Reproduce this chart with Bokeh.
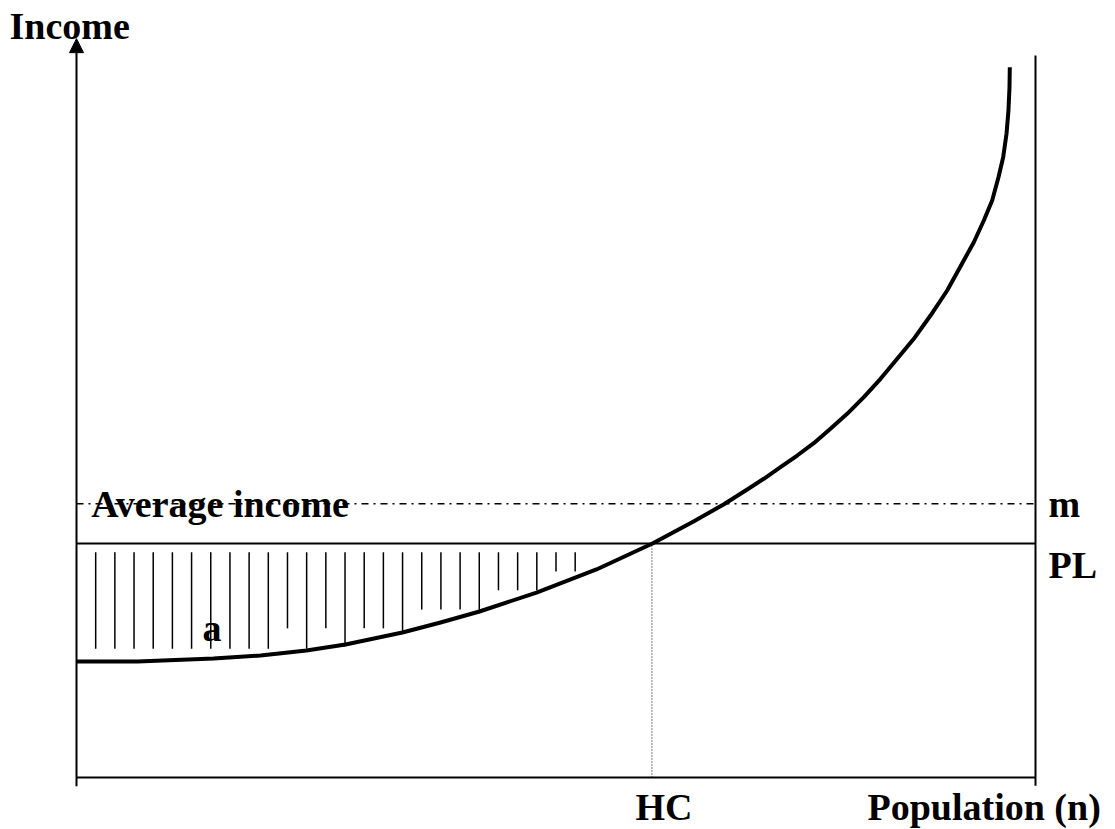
from bokeh.plotting import figure
from bokeh.models import Range1d, Arrow, NormalHead, ColumnDataSource
from bokeh.core.properties import value
from bokeh.embed import file_html
from bokeh.resources import INLINE

# ---------------- data (population share 0..100, income units) ----------------
population = [0, 6.36, 14.29, 19.19, 23.98, 28.05, 33.99, 37.96, 42.02, 47.97, 54.22, 60.06,
              64.34, 67.47, 69.94, 71.67, 73.41, 75.15, 76.88, 78.62, 80.36, 82.10, 83.84,
              85.58, 87.31, 89.05, 90.79, 92.52, 93.57, 94.61, 95.48, 96.14, 96.63, 96.98,
              97.18, 97.29, 97.32]
income = [19.83, 19.83, 20.34, 20.85, 21.71, 22.74, 24.79, 26.50, 28.38, 31.62, 35.56, 40.00,
          43.76, 46.67, 49.23, 51.06, 53.04, 55.04, 57.15, 59.61, 62.17, 65.01, 68.15,
          71.57, 74.99, 78.97, 83.25, 88.38, 91.50, 95.21, 98.63, 102.62, 106.03, 110.09,
          114.02, 118.0, 121.42]

poverty_line = 40.0
mean_income = 46.8
head_count = 60.0
pop_max = 100.0
income_axis_top = 126.3

hatch_x = [2, 4, 6, 8, 10, 12, 14, 16, 18, 20, 22, 24, 26, 28, 30, 32, 34, 36, 38, 40,
           42, 44, 46, 48, 50, 52]
hatch_top = [38.5] * 26
hatch_bottom = [22.0, 22.0, 22.0, 22.0, 22.0, 22.0, 22.0, 22.0, 22.0, 22.0, 25.5, 22.0, 25.5,
                22.4, 25.5, 25.5, 25.0, 28.7, 28.7, 28.7, 28.4, 32.0, 32.0, 32.0, 35.2, 35.2]

labels = ["Income", "Average income", "m", "PL", "a", "HC", "Population (n)"]
label_x = [-6.99, 1.53, 101.36, 101.36, 13.14, 58.29, 82.48]
label_y = [128.5, 46.8, 46.8, 36.4, 25.6, -5.0, -5.0]

# ---------------- figure ----------------
W, H = 1115, 829
X0, Y0 = 76, 777     # pixel position of the origin
XS, YS = 9.59, 5.85  # pixels per data unit
p = figure(width=W, height=H, output_backend="svg", toolbar_location=None,
           x_axis_type=None, y_axis_type=None, min_border=0,
           x_range=Range1d(-X0 / XS, (W - X0) / XS),
           y_range=Range1d(-(H - Y0) / YS, Y0 / YS))
p.grid.visible = False
p.outline_line_color = None
p.background_fill_color = "white"
p.border_fill_color = "white"

black = "#000000"

# axes
p.segment(x0=[0], y0=[0], x1=[pop_max], y1=[0], line_color=black, line_width=2)
p.segment(x0=[pop_max], y0=[-1.4], x1=[pop_max], y1=[123.4], line_color=black, line_width=2)
p.add_layout(Arrow(x_start=0, y_start=-1.5, x_end=0, y_end=income_axis_top,
                   line_color=black, line_width=2,
                   end=NormalHead(size=14, fill_color=black, line_color=black, line_width=1)))

# poverty line and mean income
p.segment(x0=[0], y0=[poverty_line], x1=[pop_max], y1=[poverty_line],
          line_color=black, line_width=2)
p.segment(x0=[0], y0=[mean_income], x1=[pop_max], y1=[mean_income],
          line_color=black, line_width=1.5, line_dash="7 5 2 5")
p.segment(x0=[head_count], y0=[0], x1=[head_count], y1=[poverty_line],
          line_color=black, line_width=1, line_dash="1 2")

# hatch
p.segment(x0=hatch_x, y0=hatch_top, x1=hatch_x, y1=hatch_bottom,
          line_color=black, line_width=1.5)

# income curve
p.line(population, income, line_color=black, line_width=4, line_join="round")

# labels
src = ColumnDataSource(dict(x=label_x, y=label_y, t=labels))
p.text(x="x", y="y", text="t", source=src, text_font=value("Liberation Serif"),
       text_font_style="bold", text_font_size="38px", text_color=black,
       text_align="left", text_baseline="alphabetic")

open("out.html", "w").write(file_html(p, INLINE))
